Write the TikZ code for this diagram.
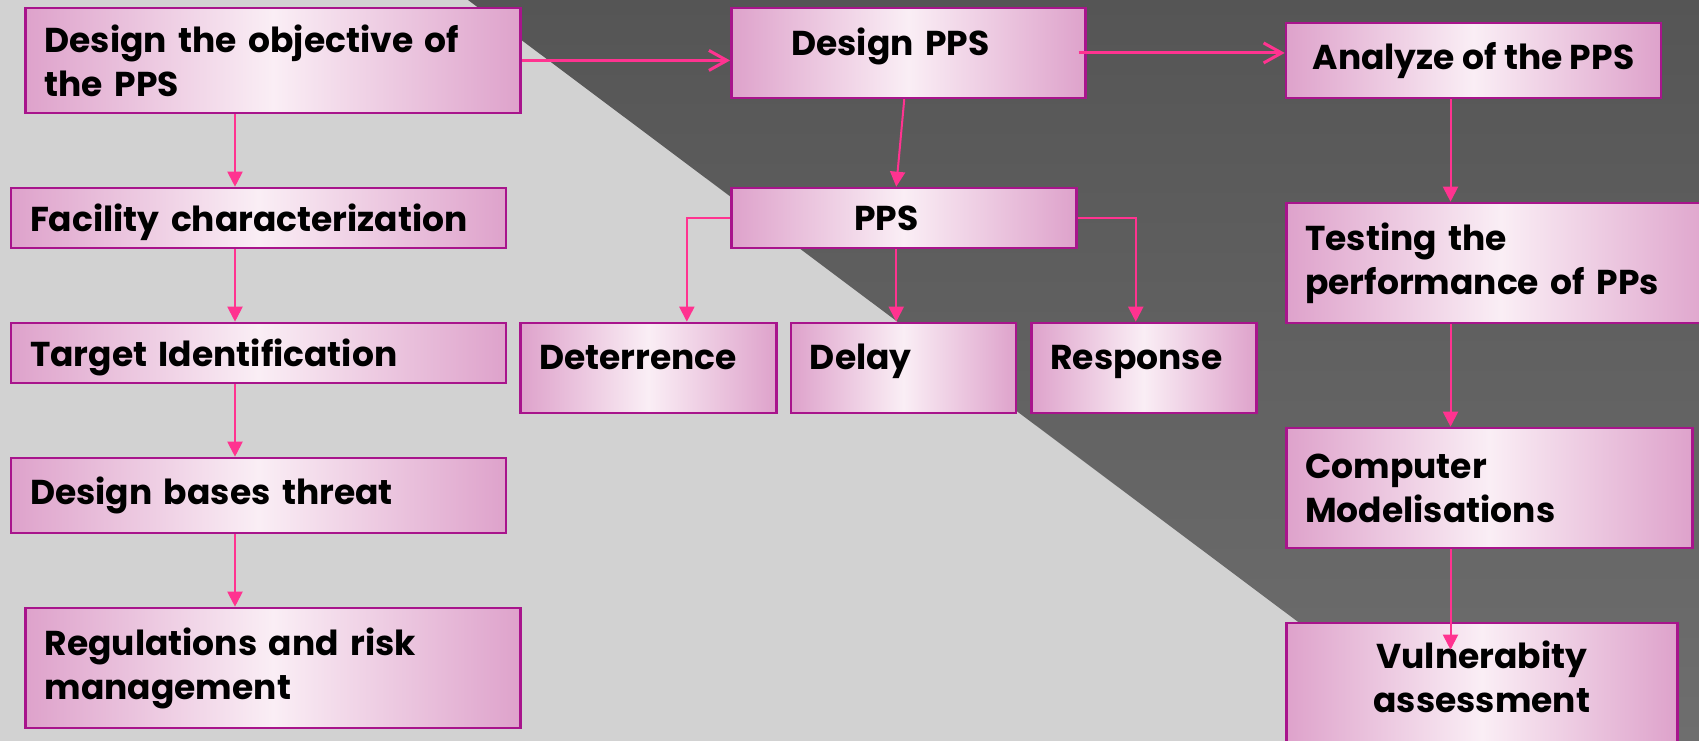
\documentclass[tikz,border=0pt]{standalone}
\usepackage{fontspec}
\setmainfont{Poppins}
\usetikzlibrary{arrows.meta}

\definecolor{bglight}{HTML}{D2D2D2}
\definecolor{bgdarktop}{HTML}{555555}
\definecolor{bgdarkbot}{HTML}{6E6E6E}
\definecolor{boxedge}{HTML}{A8148C}
\definecolor{boxpink}{HTML}{DEA2CB}
\definecolor{boxwhite}{HTML}{FAEEF5}
\definecolor{flowpink}{HTML}{FF3390}

\begin{document}
\begin{tikzpicture}[x=1pt,y=-1pt,
  box/.style={draw=boxedge,line width=2.5pt,left color=boxpink,right color=boxpink,middle color=boxwhite,
    anchor=north west,align=left,inner xsep=19pt,inner ysep=3pt,font=\bfseries\fontsize{34.5}{44}\selectfont},
  flow/.style={draw=flowpink,line width=2pt,-{Triangle[length=15pt,width=15pt]}},
  bigflow/.style={draw=flowpink,line width=3pt,-{Straight Barb[length=18pt,width=20pt]}}]

  \useasboundingbox (0,0) rectangle (1699,741);
  \clip (0,0) rectangle (1699,741);

  % background
  \fill[bglight] (0,0) rectangle (1699,741);
  \shade[top color=bgdarktop,bottom color=bgdarkbot] (468,0) -- (1699,0) -- (1699,741) -- (1457,741) -- cycle;

  % left column
  \node[box,text width=457pt,minimum height=105pt] (obj) at (24.4,6.7) {Design the objective of\\the PPS};
  \node[box,text width=457pt,minimum height=60pt,text height=37pt] (fac) at (9.8,186.7) {Facility characterization};
  \node[box,text width=457pt,minimum height=60pt,text height=37pt] (tgt) at (9.8,321.7) {Target Identification};
  \node[box,text width=457pt,minimum height=75pt] (dbt) at (9.8,456.7) {Design bases threat};
  \node[box,text width=457pt,minimum height=120pt] (reg) at (24.4,606.7) {Regulations and risk\\management};

  % middle
  \node[box,inner xsep=60pt,text width=234pt,minimum height=90pt,text depth=22pt] (dpps) at (730,6.7) {Design PPS};
  \node[box,inner xsep=123pt,text width=99pt,minimum height=60pt] (pps) at (730,186.7) {PPS};
  \node[box,text width=218pt,minimum height=90pt,text depth=22pt] (det) at (519,321.7) {Deterrence};
  \node[box,text width=187pt,minimum height=90pt,text depth=22pt] (del) at (789.7,321.7) {Delay};
  \node[box,text width=187pt,minimum height=90pt,text depth=22pt] (res) at (1030,321.7) {Response};

  % right column
  \node[box,minimum width=375pt,minimum height=75pt] (ana) at (1284.7,22) {Analyze of the PPS};
  \node[box,text width=392pt,minimum height=120pt] (tst) at (1285,201.7) {Testing the\\performance of PPs};
  \node[box,text width=368pt,minimum height=120pt] (cmp) at (1285,426.7) {Computer\\Modelisations};
  \node[box,align=center,text width=353pt,minimum height=132pt,text height=25.5pt,text depth=66pt] (vul) at (1285,621.7) {Vulnerabity\\assessment};

  \coordinate (lcol) at (235,0);
  \coordinate (rcol) at (1450.5,0);

  \draw[flow] (obj.south -| lcol) -- (fac.north -| lcol);
  \draw[flow] (fac.south -| lcol) -- (tgt.north -| lcol);
  \draw[flow] (tgt.south -| lcol) -- (dbt.north -| lcol);
  \draw[flow] (dbt.south -| lcol) -- (reg.north -| lcol);

  \draw[bigflow] (obj.east) -- (obj.east -| dpps.west);
  \draw[bigflow] ([xshift=-8pt]dpps.east) -- (dpps.east -| ana.west);

  \draw[flow] ([xshift=-4pt]dpps.south) -- ([xshift=-7.5pt]pps.north);
  \draw[flow] (pps.west) -| ([xshift=38.6pt]det.north);
  \draw[flow] ([xshift=-7.5pt]pps.south) -- ([xshift=-7.5pt]pps.south |- del.north);
  \draw[flow] (pps.east) -| ([xshift=-8pt]res.north);

  \draw[flow] (ana.south -| rcol) -- (tst.north -| rcol);
  \draw[flow] (tst.south -| rcol) -- (cmp.north -| rcol);
  \draw[flow] (cmp.south -| rcol) -- ([yshift=-28pt]vul.north -| rcol);

\end{tikzpicture}
\end{document}
